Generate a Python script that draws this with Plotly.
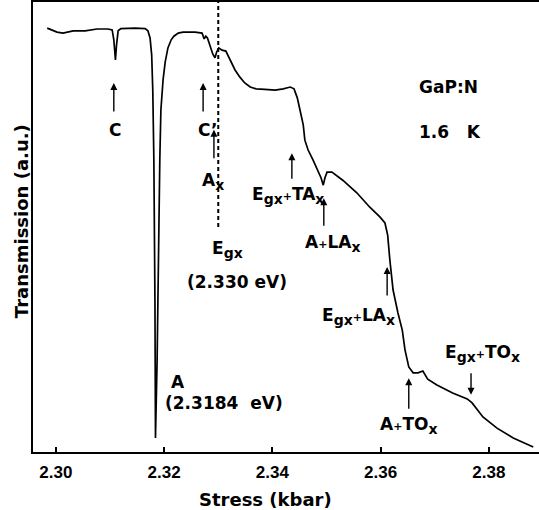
import plotly.graph_objects as go

# Transmission spectrum of GaP:N at 1.6 K
stress = [
    2.2984, 2.2993, 2.3002, 2.3013, 2.3032, 2.3054, 2.3076, 2.3096, 2.3104, 2.3107,
    2.3109, 2.3110, 2.3112, 2.3115, 2.3120, 2.3146, 2.3165, 2.3170, 2.3174, 2.3177,
    2.3179, 2.3181, 2.3183, 2.3184, 2.3187, 2.3189, 2.3192, 2.3194, 2.3198, 2.3202,
    2.3207, 2.3213, 2.3218, 2.3226, 2.3235, 2.3257, 2.3270, 2.3274, 2.3277, 2.3280,
    2.3285, 2.3290, 2.3294, 2.3297, 2.3301, 2.3307, 2.3314, 2.3322, 2.3331, 2.3340,
    2.3349, 2.3359, 2.3370, 2.3386, 2.3405, 2.3420, 2.3433, 2.3440, 2.3446, 2.3451,
    2.3457, 2.3460, 2.3466, 2.3475, 2.3484, 2.3490, 2.3494, 2.3497, 2.3501, 2.3510,
    2.3530, 2.3556, 2.3580, 2.3599, 2.3608, 2.3613, 2.3617, 2.3623, 2.3632, 2.3640,
    2.3645, 2.3652, 2.3660, 2.3669, 2.3678, 2.3687, 2.3704, 2.3733, 2.3760, 2.3769,
    2.3789, 2.3815, 2.3845, 2.3882,
]
transmission = [
    94.2, 93.8, 93.3, 93.1, 93.6, 93.6, 94.0, 94.0, 93.8, 91.6,
    87.6, 87.1, 90.4, 93.6, 94.1, 94.2, 94.1, 93.6, 92.0, 88.2,
    80.4, 64.9, 33.8, 3.1, 20.4, 44.9, 64.9, 76.0, 82.7, 86.7,
    89.8, 91.6, 92.4, 93.1, 93.3, 93.3, 93.1, 91.8, 92.4, 92.0,
    90.2, 88.4, 87.6, 88.9, 89.8, 89.3, 89.1, 87.1, 84.9, 83.3,
    82.0, 81.1, 80.7, 80.6, 80.4, 80.7, 81.1, 80.7, 78.7, 76.0,
    72.7, 69.3, 67.1, 64.9, 62.7, 60.9, 59.3, 60.9, 62.2, 62.2,
    60.4, 57.6, 54.4, 52.2, 50.9, 48.2, 42.7, 36.0, 30.9, 27.1,
    22.7, 18.9, 17.6, 17.6, 18.0, 16.2, 14.9, 13.1, 11.8, 10.9,
    7.8, 5.3, 3.1, 1.1,
]
tick_values = [2.30, 2.32, 2.34, 2.36, 2.38]
tick_labels = ["2.30", "2.32", "2.34", "2.36", "2.38"]
egx_energy = 2.330

BOLD = "DejaVu Sans"
TICK_FONT = "Liberation Sans"
PLUS = "<span style='font-size:11px'>+</span>"


def sub(s):
    """Subscript kept close to full size, as in the hand-lettered labels."""
    return "<sub><span style='font-size:14px'>" + s + "</span></sub>"


fig = go.Figure()
fig.add_trace(go.Scatter(
    x=stress, y=transmission, mode="lines",
    line=dict(color="black", width=1.7), hoverinfo="skip", showlegend=False,
))

# dashed marker for the indirect gap energy
fig.add_shape(type="line", xref="x", yref="y", x0=egx_energy, x1=egx_energy,
              y0=50.0, y1=100, line=dict(color="black", width=2, dash="4px,3px"))

# upward / downward arrows pointing at spectral features
arrows = [
    (2.3107, 82.0, 30), (2.3272, 82.0, 30), (2.3292, 71.6, 30),
    (2.3436, 66.4, 27), (2.3495, 56.4, 29), (2.3612, 41.1, 30),
    (2.3652, 16.4, 32), (2.3767, 12.7, -23),
]
for ax_x, ax_y, length in arrows:
    fig.add_annotation(x=ax_x, y=ax_y, xref="x", yref="y", text="", showarrow=True,
                       ax=0, ay=length, arrowhead=2, arrowsize=1.0, arrowwidth=1.4,
                       arrowcolor="black")

labels = [
    ("C", 2.3109, 71.6, "center"),
    ("C\u2019", 2.3259, 71.6, "left"),
    ("A" + sub("x"), 2.3267, 60.2, "left"),
    ("E" + sub("gx"), 2.3285, 45.1, "left"),
    ("(2.330\u00a0eV)", 2.3335, 37.8, "center"),
    ("A", 2.3226, 15.6, "center"),
    ("(2.3184\u00a0\u00a0eV)", 2.3198, 10.9, "left"),
    ("E" + sub("gx") + PLUS + "TA" + sub("x"), 2.3358, 57.1, "left"),
    ("A" + PLUS + "LA" + sub("x"), 2.3456, 46.4, "left"),
    ("E" + sub("gx") + PLUS + "LA" + sub("x"), 2.3488, 30.2, "left"),
    ("A" + PLUS + "TO" + sub("x"), 2.3595, 6.0, "left"),
    ("E" + sub("gx") + PLUS + "TO" + sub("x"), 2.3715, 22.0, "left"),
    ("GaP:N", 2.3667, 81.1, "left"),
    ("1.6\u00a0\u00a0\u00a0K", 2.3667, 71.1, "left"),
]
for text, lx, ly, anchor in labels:
    fig.add_annotation(x=lx, y=ly, xref="x", yref="y", text=text, showarrow=False,
                       xanchor=anchor, yanchor="middle",
                       font=dict(family=BOLD, size=17, color="black", weight="bold"))

# axis titles
fig.add_annotation(x=2.3388, y=0, xref="x", yref="paper", yshift=-47,
                   text="Stress (kbar)", showarrow=False, yanchor="middle",
                   font=dict(family=BOLD, size=18, color="black", weight="bold"))
fig.add_annotation(x=0, y=51.3, xref="paper", yref="y", xshift=-12,
                   text="Transmission (a.u.)", showarrow=False, textangle=-90,
                   xanchor="center", yanchor="middle",
                   font=dict(family=BOLD, size=18, color="black", weight="bold"))

fig.update_xaxes(range=[2.29577, 2.38926], tickvals=tick_values, ticktext=tick_labels,
                 ticks="inside", ticklen=5, tickwidth=1.5, tickcolor="black",
                 showline=True, linecolor="black", linewidth=2, mirror=True,
                 showgrid=False, zeroline=False, ticklabelstandoff=4,
                 tickfont=dict(family=TICK_FONT, size=17, color="black", weight="bold"))
fig.update_yaxes(range=[0, 100], showticklabels=False, ticks="", showline=True,
                 linecolor="black", linewidth=2, mirror=False,
                 showgrid=False, zeroline=False)

fig.update_layout(width=539, height=510, margin=dict(l=33, r=0, t=2, b=58),
                  paper_bgcolor="white", plot_bgcolor="white")

fig.write_html("out.html")
